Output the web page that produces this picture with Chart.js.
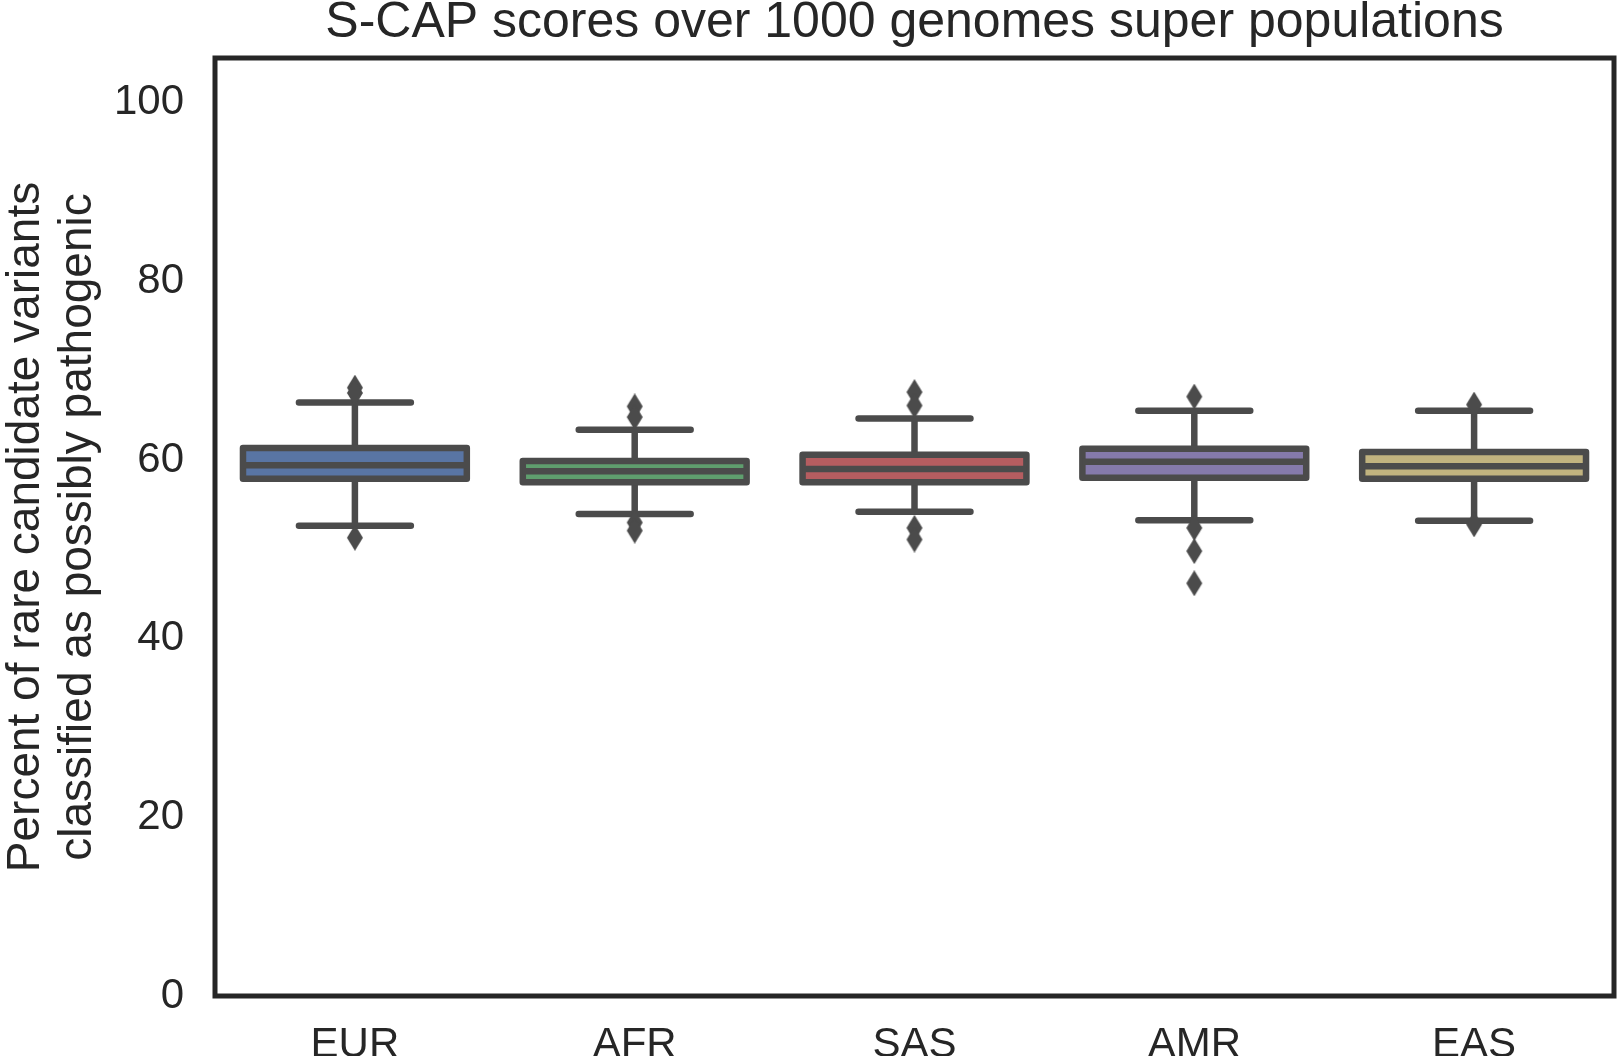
<!DOCTYPE html>
<html>
<head>
<meta charset="utf-8">
<script src="https://cdn.jsdelivr.net/npm/chart.js@4.4.1/dist/chart.umd.min.js"></script>
<style>
html,body{margin:0;padding:0;background:#fff;}
#wrap{width:1624px;height:1056px;position:relative;}
</style>
</head>
<body>
<div id="wrap"><canvas id="c" width="1624" height="1056"></canvas></div>
<script>
// ---- data ----
const categories   = ['EUR', 'AFR', 'SAS', 'AMR', 'EAS'];
const whiskerLow   = [52.65, 53.96, 54.2, 53.25, 53.2];
const q1Values     = [57.9, 57.5, 57.5, 58.0, 57.9];
const medianValues = [59.4, 58.75, 59.0, 59.8, 59.3];
const q3Values     = [61.35, 59.9, 60.6, 61.25, 60.9];
const whiskerHigh  = [66.45, 63.4, 64.65, 65.5, 65.5];
const flierCategories = ['EUR','EUR','EUR','AFR','AFR','AFR','AFR','SAS','SAS','SAS','SAS','AMR','AMR','AMR','AMR','EAS','EAS'];
const flierValues     = [68.1, 67.5, 51.3, 66.0, 64.8, 53.0, 52.1, 67.6, 66.1, 52.4, 51.1, 67.1, 52.4, 49.8, 46.2, 66.2, 52.8];
const boxColors = ['#5975a4', '#5f9e6e', '#b55d60', '#857aab', '#c1b37f'];
const yTicks = [0, 20, 40, 60, 80, 100];
const titleText = 'S-CAP scores over 1000 genomes super populations';
const yTitle = ['Percent of rare candidate variants', 'classified as possibly pathogenic'];

// ---- styles ----
const FONT = '"Liberation Sans", Arial, Helvetica, sans-serif';
const EDGE = '#4b4b4b';
const TEXT = '#262626';
const LW = 6.5;

const diamond = document.createElement('canvas');
diamond.width = 18; diamond.height = 26;
(function(){
  const g = diamond.getContext('2d');
  g.fillStyle = EDGE;
  g.beginPath();
  g.moveTo(9, 0); g.lineTo(17, 13); g.lineTo(9, 26); g.lineTo(1, 13);
  g.closePath(); g.fill();
})();

const boxPlugin = {
  id: 'boxParts',
  beforeDatasetsDraw(chart) {
    const ctx = chart.ctx, y = chart.scales.y;
    const meta = chart.getDatasetMeta(1);
    ctx.save();
    ctx.strokeStyle = EDGE; ctx.lineWidth = LW; ctx.lineCap = 'round';
    meta.data.forEach((bar, i) => {
      const x = bar.x, w = bar.width;
      const yh = y.getPixelForValue(whiskerHigh[i]);
      const yl = y.getPixelForValue(whiskerLow[i]);
      const y3 = y.getPixelForValue(q3Values[i]);
      const y1 = y.getPixelForValue(q1Values[i]);
      ctx.beginPath();
      ctx.moveTo(x, y3); ctx.lineTo(x, yh);
      ctx.moveTo(x, y1); ctx.lineTo(x, yl);
      ctx.moveTo(x - w / 4, yh); ctx.lineTo(x + w / 4, yh);
      ctx.moveTo(x - w / 4, yl); ctx.lineTo(x + w / 4, yl);
      ctx.stroke();
    });
    ctx.restore();
  },
  afterDatasetsDraw(chart) {
    const ctx = chart.ctx, y = chart.scales.y;
    const meta = chart.getDatasetMeta(1);
    ctx.save();
    ctx.strokeStyle = EDGE; ctx.lineWidth = LW; ctx.lineJoin = 'round';
    meta.data.forEach((bar, i) => {
      const x = bar.x, w = bar.width;
      const y3 = y.getPixelForValue(q3Values[i]);
      const y1 = y.getPixelForValue(q1Values[i]);
      const ym = y.getPixelForValue(medianValues[i]);
      ctx.strokeRect(x - w / 2, y3, w, y1 - y3);
      ctx.beginPath();
      ctx.moveTo(x - w / 2, ym); ctx.lineTo(x + w / 2, ym);
      ctx.stroke();
    });
    ctx.restore();
  },
  afterDraw(chart) {
    const ctx = chart.ctx, a = chart.chartArea;
    ctx.save();
    ctx.strokeStyle = TEXT; ctx.lineWidth = 5;
    ctx.strokeRect(a.left, a.top, a.right - a.left, a.bottom - a.top);
    ctx.restore();
  }
};

new Chart(document.getElementById('c'), {
  data: {
    labels: categories,
    datasets: [
      {
        type: 'line',
        label: 'fliers',
        data: flierCategories.map((c, i) => ({ x: c, y: flierValues[i] })),
        showLine: false,
        pointStyle: diamond,
        pointRadius: 9,
        pointHoverRadius: 9,
        order: 0
      },
      {
        type: 'bar',
        label: 'boxes',
        data: categories.map((c, i) => [q1Values[i], q3Values[i]]),
        backgroundColor: boxColors,
        borderWidth: 0,
        barPercentage: 0.8,
        categoryPercentage: 1.0,
        order: 1
      }
    ]
  },
  options: {
    responsive: false,
    devicePixelRatio: 1,
    animation: false,
    events: [],
    layout: { padding: { left: 0, right: 2, top: 0, bottom: 0 } },
    plugins: {
      legend: { display: false },
      tooltip: { enabled: false },
      title: {
        display: true,
        text: titleText,
        fullSize: false,
        color: TEXT,
        font: { family: FONT, size: 50, weight: 'normal', lineHeight: 0.92 },
        padding: { top: 0, bottom: 12 }
      }
    },
    scales: {
      x: {
        type: 'category',
        labels: categories,
        offset: true,
        grid: { display: false, drawTicks: false },
        border: { display: false },
        ticks: { padding: 24, color: TEXT, font: { family: FONT, size: 42 } },
        afterFit(s) { s.height = 60; }
      },
      y: {
        min: 0, max: 105,
        grid: { display: false, drawTicks: false },
        border: { display: false },
        afterBuildTicks(s) { s.ticks = yTicks.map(v => ({ value: v })); },
        ticks: { padding: 31, color: TEXT, font: { family: FONT, size: 42 } },
        title: {
          display: true,
          text: yTitle,
          color: TEXT,
          font: { family: FONT, size: 46, lineHeight: 1.13 },
          padding: { top: 0, bottom: 0 }
        },
        afterFit(s) { s.width = 215; }
      }
    }
  },
  plugins: [boxPlugin]
});
</script>
</body>
</html>
